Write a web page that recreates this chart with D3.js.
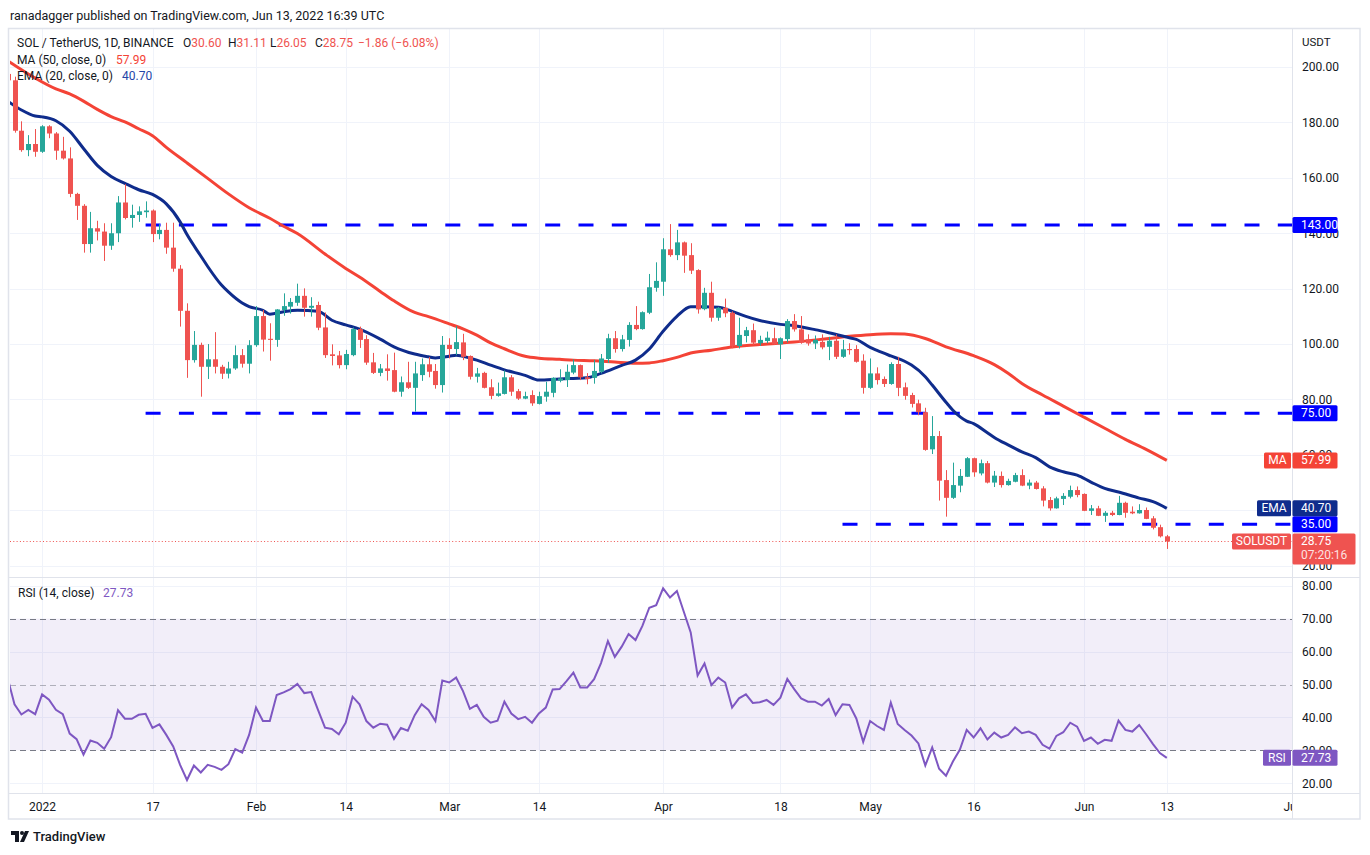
<!DOCTYPE html>
<html>
<head>
<meta charset="utf-8">
<script src="https://cdn.jsdelivr.net/npm/d3@7"></script>
<style>
  body { margin: 0; background: #fff; }
  text { font-family: Roboto, "Noto Sans", sans-serif; }
</style>
</head>
<body>
<div id="chart"></div>
<script>
// daily candles: date, open, high, low, close
var candles = [
  ["2021-12-27",197.5,203.0,193.0,195.2],
  ["2021-12-28",195.2,196.5,176.3,177.0],
  ["2021-12-29",177.0,180.4,169.4,170.0],
  ["2021-12-30",170.0,175.4,167.8,172.2],
  ["2021-12-31",172.2,177.6,167.6,169.4],
  ["2022-01-01",169.4,179.0,169.0,178.6],
  ["2022-01-02",178.6,179.0,174.3,176.0],
  ["2022-01-03",176.0,176.5,166.5,169.8],
  ["2022-01-04",169.8,174.8,166.6,167.0],
  ["2022-01-05",167.0,171.0,153.0,154.2],
  ["2022-01-06",154.2,154.6,144.8,149.9],
  ["2022-01-07",149.9,150.5,133.0,136.1],
  ["2022-01-08",136.1,147.7,133.0,141.8],
  ["2022-01-09",141.8,144.5,137.4,140.6],
  ["2022-01-10",140.6,143.6,130.0,135.5],
  ["2022-01-11",135.5,143.6,134.0,140.0],
  ["2022-01-12",140.0,153.4,136.8,151.1],
  ["2022-01-13",151.1,157.7,145.0,145.5],
  ["2022-01-14",145.5,150.3,142.0,146.6],
  ["2022-01-15",146.6,149.7,144.1,147.9],
  ["2022-01-16",147.6,151.5,145.6,148.2],
  ["2022-01-17",148.2,148.6,136.8,139.7],
  ["2022-01-18",139.7,143.3,137.8,141.2],
  ["2022-01-19",141.2,143.8,132.6,134.8],
  ["2022-01-20",134.8,143.8,126.1,127.2],
  ["2022-01-21",127.2,128.5,106.3,112.0],
  ["2022-01-22",112.0,114.7,87.8,94.2],
  ["2022-01-23",94.2,104.7,93.3,99.7],
  ["2022-01-24",99.7,100.5,81.0,91.8],
  ["2022-01-25",91.8,100.0,87.4,94.5],
  ["2022-01-26",94.5,104.3,89.4,91.8],
  ["2022-01-27",91.8,92.5,87.4,89.3],
  ["2022-01-28",89.3,93.6,87.6,91.2],
  ["2022-01-29",91.2,99.5,90.7,96.0],
  ["2022-01-30",96.0,98.2,91.5,92.9],
  ["2022-01-31",92.9,101.4,89.4,99.6],
  ["2022-02-01",99.6,113.7,99.0,110.1],
  ["2022-02-02",110.1,112.3,97.3,101.6],
  ["2022-02-03",101.9,107.5,94.0,101.5],
  ["2022-02-04",101.5,112.6,99.0,112.5],
  ["2022-02-05",112.3,118.3,110.2,113.7],
  ["2022-02-06",113.5,116.6,111.0,115.2],
  ["2022-02-07",114.9,121.8,113.8,117.4],
  ["2022-02-08",117.4,120.1,109.9,113.1],
  ["2022-02-09",113.1,116.9,109.9,113.8],
  ["2022-02-10",114.1,115.3,105.0,105.9],
  ["2022-02-11",106.0,111.4,95.0,96.0],
  ["2022-02-12",96.3,99.9,92.3,95.7],
  ["2022-02-13",95.9,97.5,91.2,92.4],
  ["2022-02-14",92.4,97.9,90.9,96.4],
  ["2022-02-15",96.0,106.0,95.6,105.4],
  ["2022-02-16",105.4,106.3,98.6,101.5],
  ["2022-02-17",101.8,103.2,92.5,93.3],
  ["2022-02-18",93.4,96.8,89.2,89.6],
  ["2022-02-19",89.6,92.8,88.4,91.2],
  ["2022-02-20",91.2,96.3,86.8,90.3],
  ["2022-02-21",90.6,96.9,82.6,82.8],
  ["2022-02-22",82.8,88.3,81.0,86.2],
  ["2022-02-23",86.2,93.6,83.8,84.2],
  ["2022-02-24",84.2,93.6,75.6,89.4],
  ["2022-02-25",88.8,94.8,86.7,92.7],
  ["2022-02-26",92.7,95.3,88.0,90.0],
  ["2022-02-27",90.3,92.8,83.9,85.2],
  ["2022-02-28",85.2,102.9,82.5,99.7],
  ["2022-03-01",99.7,102.1,94.8,98.2],
  ["2022-03-02",98.2,106.5,96.0,100.7],
  ["2022-03-03",100.6,103.7,94.2,95.4],
  ["2022-03-04",95.7,95.9,87.2,88.2],
  ["2022-03-05",88.2,91.4,86.1,89.4],
  ["2022-03-06",89.6,90.0,84.0,84.2],
  ["2022-03-07",84.4,87.3,80.1,81.3],
  ["2022-03-08",81.3,86.1,81.0,82.2],
  ["2022-03-09",82.0,90.5,81.8,88.0],
  ["2022-03-10",88.0,88.8,81.3,82.8],
  ["2022-03-11",83.0,83.8,79.8,80.3],
  ["2022-03-12",80.3,82.8,80.1,81.2],
  ["2022-03-13",81.6,83.3,77.7,78.6],
  ["2022-03-14",78.4,82.8,78.2,81.2],
  ["2022-03-15",81.0,86.4,79.2,82.8],
  ["2022-03-16",82.4,88.0,80.8,87.8],
  ["2022-03-17",86.8,90.9,86.2,87.6],
  ["2022-03-18",87.0,92.6,84.5,90.0],
  ["2022-03-19",89.7,94.5,89.1,92.4],
  ["2022-03-20",92.4,92.6,87.0,88.0],
  ["2022-03-21",88.0,89.5,85.5,87.4],
  ["2022-03-22",87.8,94.3,85.7,90.3],
  ["2022-03-23",90.0,96.4,89.4,94.8],
  ["2022-03-24",94.6,103.7,93.2,102.1],
  ["2022-03-25",102.1,104.7,96.9,98.2],
  ["2022-03-26",98.2,103.3,97.3,101.7],
  ["2022-03-27",101.5,107.9,99.1,106.9],
  ["2022-03-28",106.9,113.7,105.0,105.4],
  ["2022-03-29",105.4,111.8,105.2,111.5],
  ["2022-03-30",111.3,125.3,110.8,120.5],
  ["2022-03-31",120.3,129.5,118.9,122.8],
  ["2022-04-01",122.5,138.2,117.4,134.2],
  ["2022-04-02",134.2,143.3,131.5,132.1],
  ["2022-04-03",132.1,141.2,130.3,136.7],
  ["2022-04-04",136.7,137.0,125.7,131.9],
  ["2022-04-05",132.1,136.4,125.3,126.5],
  ["2022-04-06",126.7,127.0,111.0,112.5],
  ["2022-04-07",112.6,120.3,112.2,118.5],
  ["2022-04-08",118.5,122.5,108.1,109.5],
  ["2022-04-09",109.5,113.4,108.4,113.1],
  ["2022-04-10",113.1,116.4,109.7,111.1],
  ["2022-04-11",111.3,111.8,98.5,99.3],
  ["2022-04-12",99.3,109.5,98.4,103.3],
  ["2022-04-13",102.9,106.2,100.6,105.0],
  ["2022-04-14",105.0,107.4,99.7,100.5],
  ["2022-04-15",100.3,103.0,99.4,101.5],
  ["2022-04-16",101.1,104.5,100.3,102.3],
  ["2022-04-17",102.1,105.9,99.7,99.9],
  ["2022-04-18",99.9,102.4,94.6,102.1],
  ["2022-04-19",101.8,109.0,100.6,108.3],
  ["2022-04-20",108.3,110.8,104.5,105.3],
  ["2022-04-21",105.3,110.1,100.1,100.5],
  ["2022-04-22",101.7,103.5,99.4,100.2],
  ["2022-04-23",100.2,103.1,98.2,101.5],
  ["2022-04-24",100.8,103.5,98.1,98.8],
  ["2022-04-25",99.0,102.6,94.2,101.2],
  ["2022-04-26",101.2,103.5,94.6,95.4],
  ["2022-04-27",95.4,101.5,95.0,98.1],
  ["2022-04-28",98.2,100.3,96.2,97.8],
  ["2022-04-29",98.2,99.6,93.3,93.6],
  ["2022-04-30",94.0,96.3,82.1,84.2],
  ["2022-05-01",84.2,94.8,83.8,89.4],
  ["2022-05-02",89.4,91.6,85.4,87.0],
  ["2022-05-03",87.4,88.3,84.5,85.6],
  ["2022-05-04",85.6,93.4,85.3,92.8],
  ["2022-05-05",92.8,95.4,81.2,84.2],
  ["2022-05-06",84.4,86.1,79.9,81.3],
  ["2022-05-07",81.6,82.4,77.1,78.4],
  ["2022-05-08",78.6,79.9,74.3,75.4],
  ["2022-05-09",75.4,77.0,61.5,61.8],
  ["2022-05-10",62.0,74.0,60.3,66.8],
  ["2022-05-11",66.8,68.6,43.5,50.7],
  ["2022-05-12",50.9,54.5,37.7,44.5],
  ["2022-05-13",44.5,57.2,44.1,49.1],
  ["2022-05-14",48.9,54.9,46.5,52.4],
  ["2022-05-15",52.1,59.2,52.0,58.8],
  ["2022-05-16",58.8,59.0,52.1,53.7],
  ["2022-05-17",53.3,58.3,52.6,57.0],
  ["2022-05-18",57.0,57.8,49.7,50.0],
  ["2022-05-19",50.0,54.2,48.4,52.5],
  ["2022-05-20",52.4,54.0,48.2,49.1],
  ["2022-05-21",49.1,51.4,48.9,50.6],
  ["2022-05-22",50.3,53.5,50.1,52.7],
  ["2022-05-23",52.7,54.8,48.7,48.9],
  ["2022-05-24",48.9,51.1,47.6,50.0],
  ["2022-05-25",50.0,50.6,47.5,47.7],
  ["2022-05-26",47.9,48.7,41.4,43.5],
  ["2022-05-27",43.7,44.8,39.9,40.7],
  ["2022-05-28",40.7,44.9,40.6,44.3],
  ["2022-05-29",44.1,46.2,41.9,45.2],
  ["2022-05-30",44.9,48.9,44.3,47.3],
  ["2022-05-31",47.3,48.6,44.7,45.5],
  ["2022-06-01",45.9,46.1,39.7,39.8],
  ["2022-06-02",39.8,41.9,38.3,40.7],
  ["2022-06-03",40.7,41.6,37.9,38.0],
  ["2022-06-04",38.0,39.7,35.8,39.1],
  ["2022-06-05",39.1,39.8,37.9,38.3],
  ["2022-06-06",38.3,45.2,38.2,42.7],
  ["2022-06-07",42.7,43.1,37.3,39.1],
  ["2022-06-08",39.5,41.4,38.6,38.9],
  ["2022-06-09",38.9,42.2,38.8,40.1],
  ["2022-06-10",40.1,41.0,36.8,36.9],
  ["2022-06-11",37.1,37.9,33.1,33.7],
  ["2022-06-12",33.9,34.8,30.2,30.6],
  ["2022-06-13",30.6,31.11,26.05,28.75]
];

// RSI(14), one value per candle above
var rsiValues = [
  52.0,44.0,40.9,42.3,41.0,47.0,45.4,42.3,41.0,35.1,
  33.4,28.7,33.0,32.3,30.5,34.0,42.2,39.6,39.6,40.8,
  41.1,36.8,37.9,34.7,31.2,25.6,21.0,25.4,23.3,25.6,
  25.0,24.1,25.8,30.4,29.3,34.7,43.0,38.9,38.9,46.8,
  47.6,48.6,50.2,47.4,47.7,42.2,36.9,36.5,34.9,38.4,
  46.3,44.0,38.9,36.9,38.1,37.8,33.5,36.8,36.0,40.7,
  44.0,42.3,38.9,51.2,50.6,52.1,48.0,42.6,43.8,40.2,
  38.4,39.0,44.8,41.2,39.5,40.2,38.4,41.2,43.0,48.5,
  48.6,51.0,53.6,49.1,49.1,51.6,56.5,63.2,58.4,61.5,
  65.3,63.5,67.8,73.3,74.1,79.2,76.4,78.4,72.1,65.8,
  52.7,56.4,49.8,52.1,50.6,43.0,45.8,47.0,44.4,44.6,
  45.3,43.8,46.0,51.7,48.6,45.8,44.8,44.8,43.6,45.6,
  40.7,44.0,43.8,39.7,32.6,38.9,37.4,36.2,44.5,38.0,
  36.2,34.5,32.1,25.4,30.9,24.4,22.3,26.6,30.2,36.2,
  33.9,36.7,33.3,35.4,33.9,34.7,37.0,35.2,35.7,34.7,
  31.7,30.5,34.4,35.5,38.4,37.2,32.9,33.9,32.0,33.2,
  32.9,39.0,36.2,35.7,37.7,34.9,31.9,29.2,27.73
];

// EMA(20)
var ema20 = [
  ["2021-12-27",187.7],["2021-12-29",184.5],["2021-12-31",182.3],["2022-01-01",182.0],
  ["2022-01-03",180.6],["2022-01-05",176.8],["2022-01-07",170.6],["2022-01-09",164.5],
  ["2022-01-11",160.5],["2022-01-13",158.0],["2022-01-15",155.7],["2022-01-17",154.0],
  ["2022-01-19",150.6],["2022-01-21",144.1],["2022-01-22",139.5],["2022-01-24",131.8],
  ["2022-01-25",128.0],["2022-01-27",121.3],["2022-01-28",118.8],["2022-01-30",114.8],
  ["2022-01-31",113.5],["2022-02-02",112.2],["2022-02-03",110.8],["2022-02-05",111.7],
  ["2022-02-07",112.2],["2022-02-10",111.8],["2022-02-12",108.6],["2022-02-14",106.9],
  ["2022-02-16",105.4],["2022-02-19",101.8],["2022-02-21",99.0],["2022-02-24",96.4],
  ["2022-02-26",95.4],["2022-02-27",95.0],["2022-03-01",95.6],["2022-03-02",96.0],
  ["2022-03-04",94.9],["2022-03-05",94.2],["2022-03-07",92.4],["2022-03-09",90.7],
  ["2022-03-12",88.7],["2022-03-14",87.0],["2022-03-17",87.4],["2022-03-19",87.6],
  ["2022-03-21",87.8],["2022-03-23",89.4],["2022-03-26",92.3],["2022-03-28",94.2],
  ["2022-03-30",98.2],["2022-04-01",104.6],["2022-04-03",110.0],["2022-04-05",113.5],
  ["2022-04-07",113.5],["2022-04-09",113.3],["2022-04-11",111.8],["2022-04-13",110.0],
  ["2022-04-15",108.5],["2022-04-18",107.1],["2022-04-20",106.6],["2022-04-23",105.2],
  ["2022-04-25",104.1],["2022-04-28",102.3],["2022-04-29",101.7],["2022-05-01",98.8],
  ["2022-05-02",97.7],["2022-05-04",95.7],["2022-05-06",93.8],["2022-05-07",92.4],
  ["2022-05-09",88.2],["2022-05-10",85.2],["2022-05-12",79.0],["2022-05-13",76.1],
  ["2022-05-15",72.2],["2022-05-16",71.3],["2022-05-18",68.0],["2022-05-19",66.3],
  ["2022-05-21",63.6],["2022-05-23",61.1],["2022-05-25",59.0],["2022-05-27",55.7],
  ["2022-05-29",53.9],["2022-05-31",52.7],["2022-06-02",50.2],["2022-06-04",47.9],
  ["2022-06-06",46.6],["2022-06-09",44.4],["2022-06-11",43.1],["2022-06-13",40.7]
];

// MA(50)
var ma50 = [
  ["2021-12-27",202.3],["2021-12-31",196.0],["2022-01-03",192.1],["2022-01-05",190.3],
  ["2022-01-07",187.7],["2022-01-09",184.7],["2022-01-11",182.1],["2022-01-13",180.2],
  ["2022-01-15",177.7],["2022-01-17",175.2],["2022-01-19",171.0],["2022-01-22",165.4],
  ["2022-01-25",159.8],["2022-01-28",154.2],["2022-01-31",149.2],["2022-02-03",145.4],
  ["2022-02-05",142.5],["2022-02-07",139.9],["2022-02-11",132.5],["2022-02-14",127.3],
  ["2022-02-16",124.2],["2022-02-19",119.0],["2022-02-21",115.6],["2022-02-24",111.4],
  ["2022-02-26",109.9],["2022-03-01",107.3],["2022-03-03",105.5],["2022-03-05",103.2],
  ["2022-03-07",100.4],["2022-03-09",98.3],["2022-03-12",95.6],["2022-03-14",94.9],
  ["2022-03-17",94.5],["2022-03-19",94.2],["2022-03-22",94.0],["2022-03-25",93.5],
  ["2022-03-28",93.1],["2022-03-30",93.2],["2022-04-01",94.0],["2022-04-03",95.2],
  ["2022-04-05",96.8],["2022-04-08",97.8],["2022-04-11",98.9],["2022-04-15",99.8],
  ["2022-04-20",100.7],["2022-04-25",102.0],["2022-04-28",102.8],["2022-05-01",103.4],
  ["2022-05-04",103.7],["2022-05-06",103.6],["2022-05-09",102.0],["2022-05-12",99.0],
  ["2022-05-16",95.8],["2022-05-19",92.6],["2022-05-21",89.5],["2022-05-23",85.8],
  ["2022-05-26",81.6],["2022-05-29",77.6],["2022-06-01",73.6],["2022-06-04",69.6],
  ["2022-06-07",65.6],["2022-06-10",62.0],["2022-06-13",58.0]
];

// horizontal levels drawn by the author: price, first day
var levels = [[143, "2022-01-16"], [75, "2022-01-16"], [35, "2022-04-27"]];

var priceTicks = [20, 40, 60, 80, 100, 120, 140, 160, 180, 200];
var rsiTicks = [20, 30, 40, 50, 60, 70, 80];
var timeTicks = ["2022-01-01","2022-01-17","2022-02-01","2022-02-14","2022-03-01","2022-03-14",
                 "2022-04-01","2022-04-18","2022-05-01","2022-05-16","2022-06-01","2022-06-13","2022-07-01"];
var timeLabels = ["2022","17","Feb","14","Mar","14","Apr","18","May","16","Jun","13","Jul"];

//colours
var up = '#26a69a', down = '#ef5350', maColor = '#f44336', emaColor = '#0f2c8c',
    levelColor = '#0000ff', rsiColor = '#7e57c2', grid = '#f0f3fa', border = '#e0e3eb', ink = '#131722';

var W = 1370, H = 855;
var pane = {left: 10, right: 1292, top: 29, split: 577, rsiBottom: 793, bottom: 819, outer: 1360};

var parse = d3.utcParse('%Y-%m-%d');
var bars = candles.map(function(c, i) {
  return {date: parse(c[0]), o: c[1], h: c[2], l: c[3], c: c[4], rsi: rsiValues[i]};
});

var x = d3.scaleUtc()
  .domain([parse('2022-01-01'), parse('2022-07-01')])
  .range([42.1, 1291]);
var y = d3.scaleLinear().domain([20, 200]).range([565.7, 67]);
var yRsi = d3.scaleLinear().domain([20, 80]).range([783.3, 585.7]);

var svg = d3.select('#chart').append('svg')
  .attr('width', W)
  .attr('height', H);

var defs = svg.append('defs');
defs.append('clipPath').attr('id', 'clipMain').append('rect')
  .attr('x', pane.left).attr('y', pane.top)
  .attr('width', pane.right - pane.left).attr('height', pane.split - pane.top);
defs.append('clipPath').attr('id', 'clipRsi').append('rect')
  .attr('x', pane.left).attr('y', pane.split)
  .attr('width', pane.right - pane.left).attr('height', pane.rsiBottom - pane.split);
defs.append('clipPath').attr('id', 'clipTime').append('rect')
  .attr('x', pane.left).attr('y', pane.rsiBottom)
  .attr('width', pane.right - pane.left).attr('height', pane.bottom - pane.rsiBottom);

//publisher line
svg.append('text')
  .attr('x', 10).attr('y', 15)
  .attr('dominant-baseline', 'central')
  .attr('font-size', 12.5).attr('fill', ink)
  .text('ranadagger published on TradingView.com, Jun 13, 2022 16:39 UTC');

//grid
var gGrid = svg.append('g');
gGrid.selectAll('.vgrid')
  .data(timeTicks.slice(0, -1))
  .enter().append('line')
  .attr('x1', d => Math.round(x(parse(d))) + 0.5)
  .attr('x2', d => Math.round(x(parse(d))) + 0.5)
  .attr('y1', pane.top).attr('y2', pane.rsiBottom)
  .attr('stroke', grid);
gGrid.selectAll('.hgrid')
  .data(priceTicks)
  .enter().append('line')
  .attr('x1', pane.left).attr('x2', pane.right)
  .attr('y1', d => Math.round(y(d)) + 0.5)
  .attr('y2', d => Math.round(y(d)) + 0.5)
  .attr('stroke', grid);
gGrid.selectAll('.rgrid')
  .data([20, 40, 60, 80])
  .enter().append('line')
  .attr('x1', pane.left).attr('x2', pane.right)
  .attr('y1', d => Math.round(yRsi(d)) + 0.5)
  .attr('y2', d => Math.round(yRsi(d)) + 0.5)
  .attr('stroke', grid);

//RSI band
svg.append('rect')
  .attr('x', pane.left).attr('width', pane.right - pane.left)
  .attr('y', yRsi(70)).attr('height', yRsi(30) - yRsi(70))
  .attr('fill', rsiColor).attr('fill-opacity', 0.1);
svg.selectAll('.rsiLevel')
  .data([70, 50, 30])
  .enter().append('line')
  .attr('x1', pane.left).attr('x2', pane.right)
  .attr('y1', d => Math.round(yRsi(d)) + 0.5)
  .attr('y2', d => Math.round(yRsi(d)) + 0.5)
  .attr('stroke', '#787b86')
  .attr('stroke-opacity', d => d == 50 ? 0.55 : 1)
  .attr('stroke-dasharray', '6,4');

//main pane
var gMain = svg.append('g').attr('clip-path', 'url(#clipMain)');

//horizontal levels
gMain.selectAll('.level')
  .data(levels)
  .enter().append('line')
  .attr('x1', d => x(parse(d[1])))
  .attr('x2', pane.right)
  .attr('y1', d => y(d[0])).attr('y2', d => y(d[0]))
  .attr('stroke', levelColor)
  .attr('stroke-width', 3)
  .attr('stroke-dasharray', '15,18.3');

//last price line
gMain.append('line')
  .attr('x1', pane.left).attr('x2', pane.right)
  .attr('y1', Math.round(y(28.75)) + 0.5).attr('y2', Math.round(y(28.75)) + 0.5)
  .attr('stroke', down)
  .attr('stroke-dasharray', '1,2.3');

var lineMain = d3.line()
  .x(d => x(parse(d[0])))
  .y(d => y(d[1]))
  .curve(d3.curveMonotoneX);

gMain.append('path')
  .attr('d', lineMain(ma50))
  .attr('fill', 'none').attr('stroke', maColor).attr('stroke-width', 3);
gMain.append('path')
  .attr('d', lineMain(ema20))
  .attr('fill', 'none').attr('stroke', emaColor).attr('stroke-width', 3);

//candles
var candle = gMain.selectAll('.candle')
  .data(bars)
  .enter().append('g')
  .attr('class', 'candle');
candle.append('line')
  .attr('x1', d => Math.round(x(d.date)) + 0.5)
  .attr('x2', d => Math.round(x(d.date)) + 0.5)
  .attr('y1', d => y(d.h)).attr('y2', d => y(d.l))
  .attr('stroke', d => d.c >= d.o ? up : down);
candle.append('rect')
  .attr('x', d => Math.round(x(d.date)) - 2)
  .attr('width', 5)
  .attr('y', d => y(Math.max(d.o, d.c)))
  .attr('height', d => Math.max(1, Math.abs(y(d.o) - y(d.c))))
  .attr('fill', d => d.c >= d.o ? up : down);

//RSI line
svg.append('g').attr('clip-path', 'url(#clipRsi)')
  .append('path')
  .attr('d', d3.line().x(d => x(d.date)).y(d => yRsi(d.rsi))(bars))
  .attr('fill', 'none').attr('stroke', rsiColor).attr('stroke-width', 2);

//frame and separators
svg.append('rect')
  .attr('x', 8.5).attr('y', 28.5)
  .attr('width', pane.outer - 8.5).attr('height', pane.bottom - 28.5)
  .attr('fill', 'none').attr('stroke', border).attr('stroke-width', 1.5);
svg.append('line')
  .attr('x1', pane.right + 0.5).attr('x2', pane.right + 0.5)
  .attr('y1', pane.top).attr('y2', pane.bottom)
  .attr('stroke', border);
svg.append('line')
  .attr('x1', 9).attr('x2', pane.outer)
  .attr('y1', pane.split + 0.5).attr('y2', pane.split + 0.5)
  .attr('stroke', border);
svg.append('line')
  .attr('x1', 9).attr('x2', pane.outer)
  .attr('y1', pane.rsiBottom + 0.5).attr('y2', pane.rsiBottom + 0.5)
  .attr('stroke', border);

//price axis
var priceAxis = svg.append('g')
  .attr('transform', 'translate(' + (pane.right + 4) + ',0)')
  .call(d3.axisRight(y).tickValues(priceTicks).tickFormat(d3.format('.2f')).tickSize(0));
var rsiAxis = svg.append('g')
  .attr('transform', 'translate(' + (pane.right + 4) + ',0)')
  .call(d3.axisRight(yRsi).tickValues(rsiTicks).tickFormat(d3.format('.2f')).tickSize(0));
[priceAxis, rsiAxis].forEach(function(a) {
  a.select('.domain').remove();
  a.selectAll('text').attr('font-size', 12).attr('fill', ink)
    .attr('font-family', 'Roboto, sans-serif').attr('x', 6);
});
svg.append('text')
  .attr('x', 1302).attr('y', 42)
  .attr('dominant-baseline', 'central')
  .attr('font-size', 11.5).attr('fill', ink)
  .text('USDT');

//time axis
var timeAxis = svg.append('g')
  .attr('clip-path', 'url(#clipTime)')
  .append('g')
  .attr('transform', 'translate(0,' + (pane.rsiBottom + 6) + ')')
  .call(d3.axisBottom(x).tickValues(timeTicks.map(parse))
    .tickFormat((d, i) => timeLabels[i]).tickSize(0));
timeAxis.select('.domain').remove();
timeAxis.selectAll('text').attr('font-size', 12).attr('fill', ink)
  .attr('font-family', 'Roboto, sans-serif');

//tags on the price scale
function valueTag(yPos, label, fill, h) {
  h = h || 16;
  svg.append('rect')
    .attr('x', pane.right + 0.5).attr('y', yPos - 8)
    .attr('width', 45).attr('height', h)
    .attr('rx', 1.5).attr('fill', fill);
  svg.append('text')
    .attr('x', pane.right + 9).attr('y', yPos)
    .attr('dominant-baseline', 'central')
    .attr('font-size', 12).attr('fill', '#fff')
    .text(label);
}
function nameTag(yPos, label, fill, w) {
  svg.append('rect')
    .attr('x', pane.right - 1 - w).attr('y', yPos - 8)
    .attr('width', w).attr('height', 16)
    .attr('rx', 1.5).attr('fill', fill);
  svg.append('text')
    .attr('x', pane.right - 1 - w / 2).attr('y', yPos)
    .attr('text-anchor', 'middle')
    .attr('dominant-baseline', 'central')
    .attr('font-size', 12).attr('fill', '#fff')
    .text(label);
}

levels.forEach(function(l) { valueTag(y(l[0]), l[0].toFixed(2), levelColor); });
nameTag(y(57.99), 'MA', maColor, 27);
valueTag(y(57.99), '57.99', maColor);
nameTag(y(40.70), 'EMA', emaColor, 34);
valueTag(y(40.70), '40.70', emaColor);
nameTag(y(28.75), 'SOLUSDT', down, 59);
svg.append('rect')
  .attr('x', pane.right + 0.5).attr('y', y(28.75) - 8)
  .attr('width', 63).attr('height', 31)
  .attr('rx', 1.5).attr('fill', down);
svg.append('text')
  .attr('x', pane.right + 9).attr('y', y(28.75))
  .attr('dominant-baseline', 'central')
  .attr('font-size', 12).attr('fill', '#fff').text('28.75');
svg.append('text')
  .attr('x', pane.right + 9).attr('y', y(28.75) + 14)
  .attr('dominant-baseline', 'central')
  .attr('font-size', 12).attr('fill', '#fff').attr('fill-opacity', 0.85).text('07:20:16');
nameTag(yRsi(27.73), 'RSI', rsiColor, 28);
valueTag(yRsi(27.73), '27.73', rsiColor);

//legend
var legend = svg.append('g')
  .attr('font-size', 12)
  .attr('dominant-baseline', 'central');
legend.append('text').attr('x', 17).attr('y', 43).attr('fill', ink)
  .text('SOL / TetherUS, 1D, BINANCE');
[['O', '30.60', 183], ['H', '31.11', 228], ['L', '26.05', 270], ['C', '28.75', 315]].forEach(function(p) {
  var t = legend.append('text').attr('x', p[2]).attr('y', 43).attr('dominant-baseline', 'central');
  t.append('tspan').attr('fill', ink).text(p[0]);
  t.append('tspan').attr('fill', down).text(p[1]);
});
legend.append('text').attr('x', 358).attr('y', 43).attr('fill', down)
  .attr('dominant-baseline', 'central').text('\u22121.86 (\u22126.08%)');
legend.append('text').attr('x', 17).attr('y', 59.5).attr('fill', ink)
  .attr('dominant-baseline', 'central').text('MA (50, close, 0)');
legend.append('text').attr('x', 116).attr('y', 59.5).attr('fill', maColor)
  .attr('dominant-baseline', 'central').text('57.99');
legend.append('text').attr('x', 17).attr('y', 76).attr('fill', ink)
  .attr('dominant-baseline', 'central').text('EMA (20, close, 0)');
legend.append('text').attr('x', 122).attr('y', 76).attr('fill', '#2445a8')
  .attr('dominant-baseline', 'central').text('40.70');
legend.append('text').attr('x', 18).attr('y', 593).attr('fill', ink)
  .attr('dominant-baseline', 'central').text('RSI (14, close)');
legend.append('text').attr('x', 103).attr('y', 593).attr('fill', rsiColor)
  .attr('dominant-baseline', 'central').text('27.73');

//TradingView mark
var logo = svg.append('g').attr('fill', ink);
logo.append('path').attr('d', 'M11,831 h8 v11 h-4 v-7 h-4 z');
logo.append('circle').attr('cx', 22).attr('cy', 833).attr('r', 2);
logo.append('path').attr('d', 'M25,831 h4 l-5,11 h-4 z');
svg.append('text')
  .attr('x', 33).attr('y', 836.5)
  .attr('dominant-baseline', 'central')
  .attr('font-size', 13).attr('font-weight', 500).attr('fill', ink)
  .text('TradingView');
</script>
</body>
</html>
